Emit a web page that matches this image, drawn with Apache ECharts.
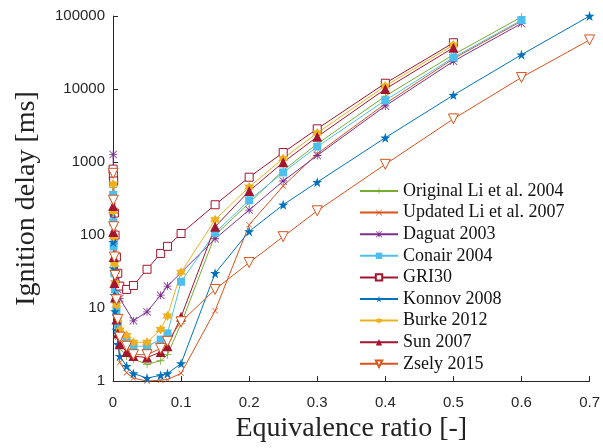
<!DOCTYPE html>
<html>
<head>
<meta charset="utf-8">
<script src="https://cdn.jsdelivr.net/npm/echarts@6/dist/echarts.min.js"></script>
<style>
  html, body { margin: 0; padding: 0; background: #fff; }
  #chart { width: 603px; height: 448px; }
</style>
</head>
<body>
<div id="chart"></div>
<script>
// equivalence ratio grid shared by all mechanisms (null = no point there)
const phi = [0.0002, 0.0005, 0.001, 0.002, 0.003, 0.005, 0.007, 0.01, 0.02, 0.03, 0.05, 0.07, 0.08, 0.1, 0.15, 0.2, 0.25, 0.3, 0.4, 0.5, 0.6, 0.7];

// ignition delay [ms]
const originalLi = [450, 190, 90, 40, 24, 11, 5.5, 2.8, 2.2, 2.0, 1.7, 1.9, 2.3, 6.1, 100, 275, 770, 1770, 8000, 29500, 97000, null];
const updatedLi  = [600, 250, 110, 45, 25, 9, 4, 1.8, 1.3, 1.1, 1.0, 1.03, 1.05, 1.28, 9.2, 138, 470, 1300, 6300, 26000, 85000, null];
const daguat     = [1270, 520, 210, 85, 48, 26, 18, 13.5, null, 6.7, 8.9, 15, 20, null, 89, 220, 550, 1230, 5860, 24000, 79000, null];
const conair     = [355, 150, 70, 30, 18, 9, 6, 4.5, 3.5, 3.0, 3.0, 3.7, 4.5, 23, 108, 300, 720, 1625, 7000, 27000, 88000, null];
const gri30      = [800, 660, 550, 200, 100, 50, 30, 20, 18, 20.4, 34, 56, 70, 105, 260, 620, 1350, 2850, 12000, 43000, null, null];
const konnov     = [200, 80, 35, 15, 9, 5, 3.2, 2.2, 1.6, 1.27, 1.1, 1.2, 1.27, 1.74, 30, 112, 260, 530, 2150, 8250, 29500, 100000];
const burke      = [500, 210, 95, 40, 22, 11, 7, 5, 4.2, 3.4, 3.4, 5.1, 7.8, 31, 162, 455, 1120, 2500, 11000, 40000, null, null];
const sun        = [250, 110, 50, 22, 14, 7, 4.5, 3.2, 2.5, 2.2, 2.1, 2.5, 3.0, 7.6, 130, 400, 990, 2220, 10000, 36800, null, null];
const zsely      = [700, 300, 130, 50, 28, 13, 7, 4.0, 3.0, 2.3, 2.3, 2.8, 3.5, 6.5, 18, 42, 95, 215, 930, 3900, 14400, 47000];

const xTicks = [0, 0.1, 0.2, 0.3, 0.4, 0.5, 0.6, 0.7];
const yTicks = [1, 10, 100, 1000, 10000, 100000];

// marker shapes (matlab style)
const PLUS = 'path://M45,0H55V45H100V55H55V100H45V55H0V45H45Z';
const CROSS = 'path://M7,0L50,43L93,0L100,7L57,50L100,93L93,100L50,57L7,100L0,93L43,50L0,7Z';
const ASTER = 'path://M45,0H55V45H100V55H55V100H45V55H0V45H45Z M7,0L50,43L93,0L100,7L57,50L100,93L93,100L50,57L7,100L0,93L43,50L0,7Z';
const PENTA = 'path://M50,0L61.2,34.5L97.6,34.5L68.2,55.9L79.4,90.5L50,69.1L20.6,90.5L31.8,55.9L2.4,34.5L38.8,34.5Z';
const HEXA = 'path://M50,0L64.4,25L93.3,25L78.9,50L93.3,75L64.4,75L50,100L35.6,75L6.7,75L21.1,50L6.7,25L35.6,25Z';

function mk(name, vals, color, symbol, size, open, rotate) {
  return {
    name: name,
    type: 'line',
    data: phi.map((x, i) => [x, vals[i]]).filter(p => p[1] != null),
    symbol: symbol,
    symbolSize: size,
    symbolRotate: rotate || 0,
    showAllSymbol: true,
    lineStyle: { color: color, width: 1 },
    itemStyle: open
      ? { color: '#fff', borderColor: color, borderWidth: 1 }
      : { color: color, borderWidth: 0 },
    emphasis: { disabled: true }
  };
}

const chart = echarts.init(document.getElementById('chart'));
chart.setOption({
  animation: false,
  grid: { left: 113, right: 11, top: 16, bottom: 63 },
  legend: {
    orient: 'vertical',
    left: 354,
    top: 177,
    itemWidth: 38,
    itemHeight: 8,
    itemGap: 3.6,
    textStyle: { fontFamily: 'Liberation Serif', fontSize: 18, color: '#111' }
  },
  xAxis: {
    type: 'value',
    min: 0, max: 0.7, interval: 0.1,
    name: 'Equivalence ratio [-]',
    nameLocation: 'middle',
    nameGap: 33,
    nameTextStyle: { fontFamily: 'Liberation Serif', fontSize: 28, color: '#222' },
    axisLine: { lineStyle: { color: '#262626', width: 1 } },
    axisTick: { inside: true, length: 5, lineStyle: { color: '#262626' } },
    axisLabel: {
      margin: 14, fontFamily: 'Liberation Sans', fontSize: 15, color: '#262626',
      formatter: v => xTicks.includes(Math.round(v * 10) / 10) ? String(Math.round(v * 10) / 10) : ''
    },
    splitLine: { show: false }
  },
  yAxis: {
    type: 'log',
    logBase: 10,
    min: yTicks[0], max: yTicks[yTicks.length - 1],
    name: 'Ignition delay [ms]',
    nameLocation: 'middle',
    nameGap: 72,
    nameTextStyle: { fontFamily: 'Liberation Serif', fontSize: 28, color: '#222', padding: [0, 0, 0, 0] },
    axisLine: { show: true, lineStyle: { color: '#262626', width: 1 } },
    axisTick: { show: true, inside: true, length: 5, lineStyle: { color: '#262626' } },
    axisLabel: {
      margin: 8, fontFamily: 'Liberation Sans', fontSize: 15, color: '#262626',
      formatter: v => String(Math.round(v))
    },
    splitLine: { show: false }
  },
  series: [
    mk('Original Li et al. 2004', originalLi, '#77AC30', PLUS, 8, false),
    mk('Updated Li et al. 2007', updatedLi, '#D95319', CROSS, 6, false),
    mk('Daguat 2003', daguat, '#7E2F8E', ASTER, 8, false),
    mk('Conair 2004', conair, '#4DBEEE', 'rect', 8, false),
    mk('GRI30', gri30, '#A2142F', 'rect', 8, true),
    mk('Konnov 2008', konnov, '#0072BD', PENTA, 10, false),
    mk('Burke 2012', burke, '#EDB120', HEXA, 10, false),
    mk('Sun 2007', sun, '#A2142F', 'triangle', 10, false),
    mk('Zsely 2015', zsely, '#D95319', 'triangle', 10, true, 180)
  ]
});
</script>
</body>
</html>
